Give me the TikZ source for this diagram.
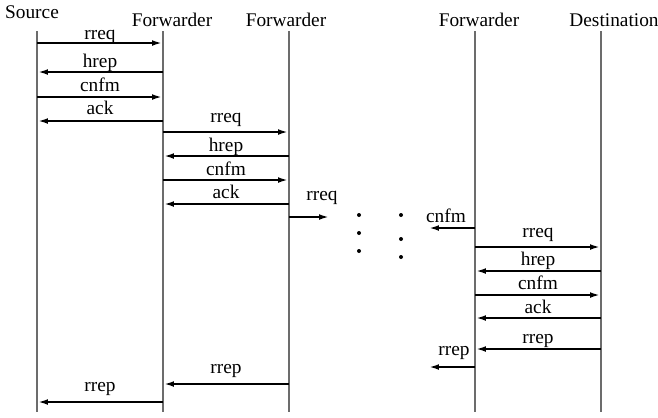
\documentclass[tikz,border=0pt]{standalone}
\usepackage{fontspec}
\setmainfont{Liberation Serif}
\usetikzlibrary{arrows.meta}
\tikzset{
  life/.style={gray!85!black, line width=0.6pt},
  msg/.style={->, line width=1.4pt},
  lbl/.style={anchor=base, inner sep=0pt},
}
\begin{document}
\begin{tikzpicture}[x=0.02cm,y=-0.02cm,>={Latex[length=6.2pt,width=3.2pt]},
    font=\fontsize{11}{13}\selectfont]
\useasboundingbox (0,0) rectangle (658,417);
% heads
\node[lbl] (hsrc) at (32,18.5) {Source};
\node[lbl] (hfw1) at (172,26) {Forwarder};
\node[lbl] (hfw2) at (286,26) {Forwarder};
\node[lbl] (hfw3) at (479,26) {Forwarder};
\node[lbl] (hdst) at (614,26) {Destination};
% lifelines
\foreach \n/\x in {s/37,f1/163,f2/289,f3/475,d/601}{
  \coordinate (\n) at (\x,31);
  \coordinate (\n b) at (\x,412);
  \draw[life] (\n)--(\n b);
}
% messages between neighbours
\foreach \a/\b/\y/\t/\g in {s/f1/43/rreq/3.5, f1/s/72/hrep/5, s/f1/97/cnfm/6, f1/s/121/ack/7,
    f1/f2/132/rreq/10, f2/f1/156/hrep/4.5, f1/f2/180/cnfm/5, f2/f1/204/ack/6,
    f3/d/247/rreq/10, d/f3/271/hrep/6, f3/d/295/cnfm/6, d/f3/318/ack/5, d/f3/349/rrep/6,
    f2/f1/384/rrep/11, f1/s/402/rrep/11}
  \draw[msg] (\a|-0,\y) -- (\b|-0,\y) node[lbl,midway,yshift=\g*0.02cm] (m\y) {\t};
% open ends
\coordinate (e1) at (330,217);
\coordinate (e2) at (428,228);
\coordinate (e3) at (428,367);
\draw[msg] (f2|-e1) -- (e1);
\draw[msg] (f3|-e2) -- (e2);
\draw[msg] (f3|-e3) -- (e3);
\node[lbl] (l1) at (322,200) {rreq};
\node[lbl] (l2) at (446,222) {cnfm};
\node[lbl] (l3) at (454,355) {rrep};
% dots
\foreach \x/\y in {359/215,359/233,359/251,401/215,401/239,401/257}
  \fill (\x,\y) circle (2);
\end{tikzpicture}
\end{document}
